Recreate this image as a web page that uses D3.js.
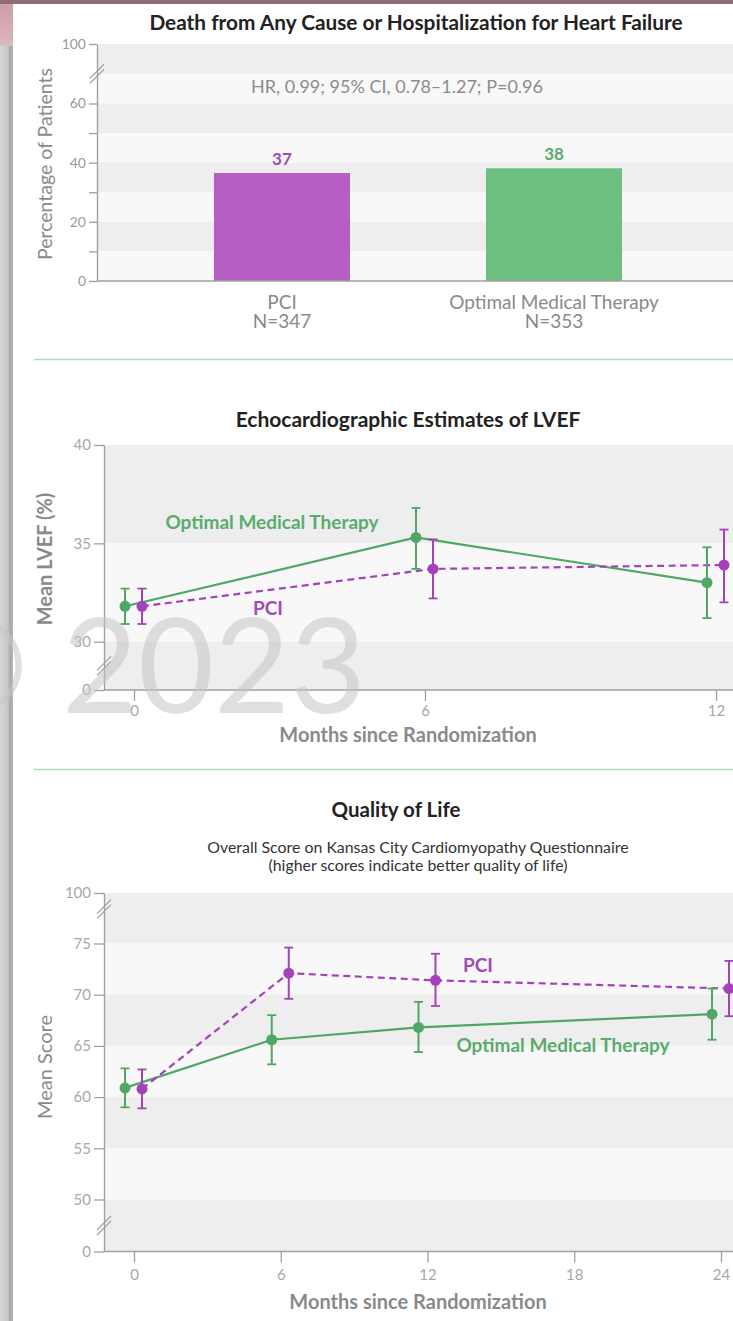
<!DOCTYPE html>
<html>
<head>
<meta charset="utf-8">
<script src="https://cdn.jsdelivr.net/npm/d3@7"></script>
<style>
  html, body { margin: 0; padding: 0; background: #ffffff; }
  svg { display: block; }
  text { font-family: Lato, "Open Sans", sans-serif; }
</style>
</head>
<body>
<svg id="chart" width="733" height="1321"></svg>
<script>
// ---------------- DATA ----------------
// Panel 1: bar chart
const barCategories = ["PCI", "Optimal Medical Therapy"];
const barN = ["N=347", "N=353"];
const barValues = [36.5, 38.1];
const barLabels = ["37", "38"];
const barStats = "HR, 0.99; 95% CI, 0.78–1.27; P=0.96";
const barYTicks = [0, 20, 40, 60, 100];
const barYMinorTicks = [10, 30, 50];
const barBands = [0, 10, 20, 30, 40, 50, 60, 80, 100];

// Panel 2: LVEF
const lvefMonths = [0, 6, 12];
const lvefOMT = [31.8, 35.3, 33.0];
const lvefOMTLow = [30.9, 33.7, 31.2];
const lvefOMTHigh = [32.7, 36.8, 34.8];
const lvefPCI = [31.8, 33.7, 33.9];
const lvefPCILow = [30.9, 32.2, 32.0];
const lvefPCIHigh = [32.7, 35.2, 35.7];
const lvefYTicks = [0, 30, 35, 40];
const lvefXTicks = [0, 6, 12];
const lvefBands = [0, 30, 35, 40];

// Panel 3: Quality of life
const qolMonths = [0, 6, 12, 24];
const qolOMT = [60.9, 65.6, 66.8, 68.1];
const qolOMTLow = [59.0, 63.2, 64.4, 65.6];
const qolOMTHigh = [62.8, 68.0, 69.3, 70.6];
const qolPCI = [60.8, 72.1, 71.4, 70.6];
const qolPCILow = [58.9, 69.6, 68.9, 67.9];
const qolPCIHigh = [62.7, 74.6, 74.0, 73.3];
const qolYTicks = [0, 50, 55, 60, 65, 70, 75, 100];
const qolXTicks = [0, 6, 12, 18, 24];
const qolBands = [0, 50, 55, 60, 65, 70, 75, 100];

// ---------------- STYLE ----------------
const C = {
  purpleBar: "#b65ec1", greenBar: "#6bbf7f",
  purple: "#a443b9", green: "#4fa765",
  purpleText: "#a04cb6", greenText: "#5aab6d",
  axis: "#a0a0a0", tick: "#9a9a9a", label: "#8a8a8a",
  bandDark: "#eeeeee", bandLight: "#f8f8f8",
  sep: "#a9dcb5"
};
const OFF_OMT = -9, OFF_PCI = 8;

const svg = d3.select("#chart");

// ---------------- FRAME DECORATION ----------------
const defs = svg.append("defs");
const g1 = defs.append("linearGradient").attr("id", "leftEdge").attr("x1", 0).attr("x2", 1).attr("y1", 0).attr("y2", 0);
g1.append("stop").attr("offset", "0").attr("stop-color", "#d6d6d6");
g1.append("stop").attr("offset", "0.55").attr("stop-color", "#c9c9c9");
g1.append("stop").attr("offset", "0.82").attr("stop-color", "#a8a8a8");
g1.append("stop").attr("offset", "1").attr("stop-color", "#b8b8b8");
const g2 = defs.append("linearGradient").attr("id", "pinkEdge").attr("x1", 0).attr("x2", 0).attr("y1", 0).attr("y2", 1);
g2.append("stop").attr("offset", "0").attr("stop-color", "#cf9aa4");
g2.append("stop").attr("offset", "0.85").attr("stop-color", "#dcb1b8");
g2.append("stop").attr("offset", "1").attr("stop-color", "#d0c4c6");

svg.append("rect").attr("x", 0).attr("y", 0).attr("width", 13).attr("height", 1321).attr("fill", "url(#leftEdge)");
svg.append("rect").attr("x", 0).attr("y", 0).attr("width", 13).attr("height", 46).attr("fill", "url(#pinkEdge)");
svg.append("rect").attr("x", 0).attr("y", 0).attr("width", 733).attr("height", 4).attr("fill", "#8d6c75");

// ---------------- HELPERS ----------------
function drawBands(yScale, bounds, x0, x1) {
  const pairs = d3.pairs(bounds).reverse(); // top first
  svg.append("g").selectAll("rect").data(pairs).join("rect")
    .attr("x", x0).attr("width", x1 - x0)
    .attr("y", d => yScale(d[1]))
    .attr("height", d => yScale(d[0]) - yScale(d[1]))
    .attr("fill", (d, i) => i % 2 === 0 ? C.bandDark : C.bandLight);
}
function styleAxis(g, color, size) {
  g.selectAll(".domain").attr("stroke", C.axis).attr("stroke-width", 1.4);
  g.selectAll(".tick line").attr("stroke", C.axis).attr("stroke-width", 1.3);
  g.selectAll(".tick text").attr("fill", color).attr("font-size", size).attr("font-family", "Lato, sans-serif");
}
function breakMark(x, y) {
  const g = svg.append("g");
  [0, 5].forEach(dy => {
    g.append("line").attr("x1", x - 7).attr("y1", y + 7 + dy - 2.5).attr("x2", x + 7).attr("y2", y - 7 + dy - 2.5)
      .attr("stroke", C.axis).attr("stroke-width", 1.2);
  });
}
function errorBars(xScale, yScale, months, mean, low, high, off, color) {
  const g = svg.append("g");
  months.forEach((m, i) => {
    const x = xScale(m) + off;
    g.append("line").attr("x1", x).attr("x2", x).attr("y1", yScale(low[i])).attr("y2", yScale(high[i]))
      .attr("stroke", color).attr("stroke-width", 2);
    [low[i], high[i]].forEach(v => {
      g.append("line").attr("x1", x - 4.5).attr("x2", x + 4.5).attr("y1", yScale(v)).attr("y2", yScale(v))
        .attr("stroke", color).attr("stroke-width", 1.8);
    });
  });
  g.selectAll("circle").data(mean).join("circle")
    .attr("cx", (d, i) => xScale(months[i]) + off)
    .attr("cy", d => yScale(d))
    .attr("r", 5.5).attr("fill", color);
}
function seriesLine(xScale, yScale, months, mean, off, color, dashed) {
  const line = d3.line().x((d, i) => xScale(months[i]) + off).y(d => yScale(d));
  svg.append("path").datum(mean).attr("d", line).attr("fill", "none")
    .attr("stroke", color).attr("stroke-width", 2.2)
    .attr("stroke-dasharray", dashed ? "7,4.5" : null);
}
function title(text, x, y, size) {
  svg.append("text").attr("x", x).attr("y", y).attr("text-anchor", "middle")
    .attr("font-size", size).attr("font-weight", 700).attr("fill", "#222").text(text);
}
function yTitle(text, x, y, size, weight) {
  svg.append("text").attr("transform", `translate(${x},${y}) rotate(-90)`)
    .attr("text-anchor", "middle").attr("dominant-baseline", "central")
    .attr("font-size", size).attr("font-weight", weight).attr("fill", C.label).text(text);
}

// ---------------- PANEL 1 ----------------
const p1y = d3.scaleLinear().domain([0, 60, 100]).range([281, 103.5, 44]);
const p1x = d3.scaleBand().domain(barCategories).range([97, 739]).paddingInner(0.5).paddingOuter(0.43);

title("Death from Any Cause or Hospitalization for Heart Failure", 416, 30, 20.8);
drawBands(p1y, barBands, 97, 733);

svg.append("text").attr("x", 397).attr("y", 93).attr("text-anchor", "middle")
  .attr("font-size", 18).attr("fill", "#8c8c8c").text(barStats);

svg.append("g").selectAll("rect").data(barValues).join("rect")
  .attr("x", (d, i) => p1x(barCategories[i]))
  .attr("width", p1x.bandwidth())
  .attr("y", d => p1y(d))
  .attr("height", d => p1y(0) - p1y(d))
  .attr("fill", (d, i) => i === 0 ? C.purpleBar : C.greenBar);

svg.append("g").selectAll("text").data(barValues).join("text")
  .attr("x", (d, i) => p1x(barCategories[i]) + p1x.bandwidth() / 2)
  .attr("y", d => p1y(d) - 8)
  .attr("text-anchor", "middle").attr("font-size", 17).attr("font-weight", 700)
  .attr("fill", (d, i) => i === 0 ? C.purpleText : C.greenText)
  .text((d, i) => barLabels[i]);

const p1yAxis = svg.append("g").attr("transform", "translate(97,0)")
  .call(d3.axisLeft(p1y).tickValues(barYTicks).tickSize(8).tickPadding(3).tickSizeOuter(0));
styleAxis(p1yAxis, C.tick, 14);
const p1yMinor = svg.append("g").attr("transform", "translate(97,0)")
  .call(d3.axisLeft(p1y).tickValues(barYMinorTicks).tickSize(8).tickFormat(() => "").tickSizeOuter(0));
p1yMinor.select(".domain").remove();
styleAxis(p1yMinor, C.tick, 14);
breakMark(97, p1y(80));

svg.append("line").attr("x1", 97).attr("x2", 733).attr("y1", p1y(0)).attr("y2", p1y(0))
  .attr("stroke", C.axis).attr("stroke-width", 1.4);

const p1xAxis = svg.append("g").attr("transform", `translate(0,${p1y(0)})`)
  .call(d3.axisBottom(p1x).tickSize(0).tickPadding(0).tickFormat(() => ""));
p1xAxis.select(".domain").remove();
p1xAxis.selectAll(".tick").each(function (d, i) {
  const t = d3.select(this).append("text").attr("text-anchor", "middle")
    .attr("font-size", 19).attr("fill", C.label).attr("font-family", "Lato, sans-serif");
  t.append("tspan").attr("x", 0).attr("y", 28).text(d);
  t.append("tspan").attr("x", 0).attr("y", 47).text(barN[i]);
});

yTitle("Percentage of Patients", 44, 164, 19.5, 400);

// separator
svg.append("line").attr("x1", 34).attr("x2", 733).attr("y1", 359.5).attr("y2", 359.5)
  .attr("stroke", C.sep).attr("stroke-width", 1.6);

// ---------------- PANEL 2 ----------------
const p2y = d3.scaleLinear().domain([0, 30, 40]).range([690, 641.7, 445]);
const p2x = d3.scaleLinear().domain([0, 12]).range([134, 716]);

title("Echocardiographic Estimates of LVEF", 408, 427, 21);
drawBands(p2y, lvefBands, 104, 733);

const p2yAxis = svg.append("g").attr("transform", "translate(104,0)")
  .call(d3.axisLeft(p2y).tickValues(lvefYTicks).tickSize(10).tickPadding(3).tickSizeOuter(0));
styleAxis(p2yAxis, "#a8a8a8", 15);
breakMark(104, p2y(15));

svg.append("line").attr("x1", 104).attr("x2", 733).attr("y1", p2y(0)).attr("y2", p2y(0))
  .attr("stroke", C.axis).attr("stroke-width", 1.4);
const p2xAxis = svg.append("g").attr("transform", `translate(0,${p2y(0)})`)
  .call(d3.axisBottom(p2x).tickValues(lvefXTicks).tickSize(11).tickPadding(4));
p2xAxis.select(".domain").remove();
styleAxis(p2xAxis, "#a8a8a8", 15);

seriesLine(p2x, p2y, lvefMonths, lvefOMT, OFF_OMT, C.green, false);
seriesLine(p2x, p2y, lvefMonths, lvefPCI, OFF_PCI, C.purple, true);
errorBars(p2x, p2y, lvefMonths, lvefOMT, lvefOMTLow, lvefOMTHigh, OFF_OMT, C.green);
errorBars(p2x, p2y, lvefMonths, lvefPCI, lvefPCILow, lvefPCIHigh, OFF_PCI, C.purple);

svg.append("text").attr("x", 272).attr("y", 529).attr("text-anchor", "middle")
  .attr("font-size", 19).attr("font-weight", 700).attr("fill", C.greenText).text("Optimal Medical Therapy");
svg.append("text").attr("x", 268).attr("y", 615).attr("text-anchor", "middle")
  .attr("font-size", 19).attr("font-weight", 700).attr("fill", C.purpleText).text("PCI");

yTitle("Mean LVEF (%)", 44, 559, 20, 700);
svg.append("text").attr("x", 408).attr("y", 742).attr("text-anchor", "middle")
  .attr("font-size", 20).attr("font-weight", 700).attr("fill", C.label).text("Months since Randomization");

svg.append("line").attr("x1", 34).attr("x2", 733).attr("y1", 769.5).attr("y2", 769.5)
  .attr("stroke", C.sep).attr("stroke-width", 1.6);

// ---------------- PANEL 3 ----------------
const p3y = d3.scaleLinear().domain([0, 50, 75, 100]).range([1251.5, 1199.5, 943.5, 893]);
const p3x = d3.scaleLinear().domain([0, 24]).range([134, 721]);

title("Quality of Life", 396, 817, 20.5);
svg.append("text").attr("x", 418).attr("y", 853).attr("text-anchor", "middle")
  .attr("font-size", 15.9).attr("fill", "#333").text("Overall Score on Kansas City Cardiomyopathy Questionnaire");
svg.append("text").attr("x", 418).attr("y", 871).attr("text-anchor", "middle")
  .attr("font-size", 15.9).attr("fill", "#333").text("(higher scores indicate better quality of life)");

drawBands(p3y, qolBands, 104, 733);

const p3yAxis = svg.append("g").attr("transform", "translate(104,0)")
  .call(d3.axisLeft(p3y).tickValues(qolYTicks).tickSize(10).tickPadding(3).tickSizeOuter(0));
styleAxis(p3yAxis, "#a8a8a8", 15);
breakMark(104, p3y(92));
breakMark(104, p3y(25));

svg.append("line").attr("x1", 104).attr("x2", 733).attr("y1", p3y(0)).attr("y2", p3y(0))
  .attr("stroke", C.axis).attr("stroke-width", 1.4);
const p3xAxis = svg.append("g").attr("transform", `translate(0,${p3y(0)})`)
  .call(d3.axisBottom(p3x).tickValues(qolXTicks).tickSize(11).tickPadding(7));
p3xAxis.select(".domain").remove();
styleAxis(p3xAxis, "#a8a8a8", 15);

seriesLine(p3x, p3y, qolMonths, qolOMT, OFF_OMT, C.green, false);
seriesLine(p3x, p3y, qolMonths, qolPCI, OFF_PCI, C.purple, true);
errorBars(p3x, p3y, qolMonths, qolOMT, qolOMTLow, qolOMTHigh, OFF_OMT, C.green);
errorBars(p3x, p3y, qolMonths, qolPCI, qolPCILow, qolPCIHigh, OFF_PCI, C.purple);

svg.append("text").attr("x", 478).attr("y", 972).attr("text-anchor", "middle")
  .attr("font-size", 19).attr("font-weight", 700).attr("fill", C.purpleText).text("PCI");
svg.append("text").attr("x", 563).attr("y", 1052).attr("text-anchor", "middle")
  .attr("font-size", 19).attr("font-weight", 700).attr("fill", C.greenText).text("Optimal Medical Therapy");

yTitle("Mean Score", 44, 1067, 20, 400);
svg.append("text").attr("x", 418).attr("y", 1309).attr("text-anchor", "middle")
  .attr("font-size", 20).attr("font-weight", 700).attr("fill", C.label).text("Months since Randomization");

// ---------------- WATERMARK ----------------
svg.append("text").attr("x", 366).attr("y", 713).attr("text-anchor", "end")
  .attr("font-family", "'Liberation Sans', Arial, sans-serif").attr("font-size", 131)
  .attr("fill", "#c4c4c4").attr("fill-opacity", 0.55).text("© 2023");
</script>
</body>
</html>
